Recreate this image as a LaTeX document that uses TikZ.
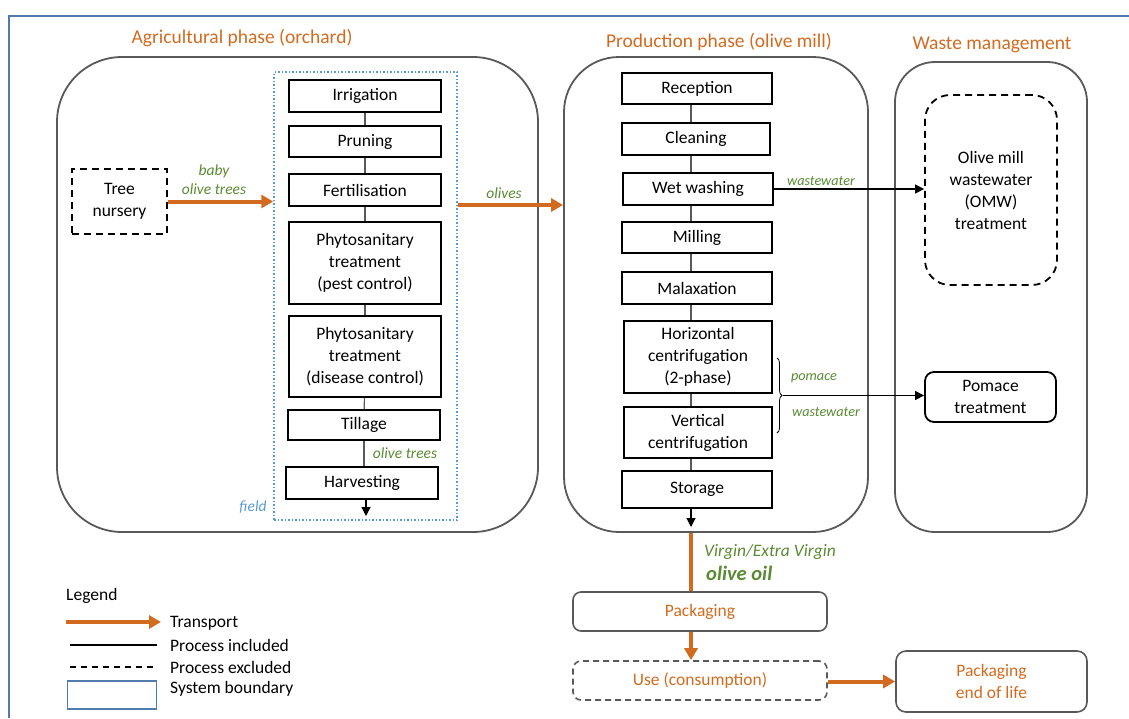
\documentclass[tikz,border=0pt]{standalone}
\usepackage{fontspec}
\setmainfont{Carlito}
\usetikzlibrary{arrows.meta,decorations.pathreplacing}
\definecolor{org}{HTML}{D26B1F}
\definecolor{grn}{HTML}{5A8A33}
\definecolor{sysblue}{HTML}{4F7CAC}
\definecolor{fieldblue}{HTML}{5B9BD5}
\definecolor{phase}{HTML}{595959}
\begin{document}
\begin{tikzpicture}[x=1pt,y=-1pt,
  txt/.style={font=\fontsize{17.5}{22}\selectfont},
  proc/.style={draw=black, line width=1.8pt, txt, align=center, inner sep=0pt},
  excl/.style={draw=black, line width=1.8pt, dash pattern=on 7pt off 5pt, txt, align=center, inner sep=0pt},
  phasebox/.style={draw=phase, line width=1.8pt, inner sep=0pt},
  ttl/.style={text=org, font=\fontsize{19.5}{23}\selectfont},
  glab/.style={text=grn, font=\fontsize{15.5}{19}\selectfont\itshape, align=center, inner sep=0pt},
  slab/.style={text=grn, font=\fontsize{14.2}{16}\selectfont\itshape, inner sep=0pt},
  conn/.style={draw=phase, line width=1.2pt},
  blk/.style={draw=black, line width=1.2pt, -{Triangle[length=9pt,width=9pt]}},
  tr/.style={draw=org, line width=4pt, -{Triangle[length=12pt,width=13pt]}},
  trline/.style={draw=org, line width=4pt},
  otxt/.style={txt, text=org, align=center, inner sep=0pt},
  legtxt/.style={txt, anchor=west, inner sep=0pt}
]
\useasboundingbox (0,0) rectangle (1129,718);
% system boundary
\draw[sysblue, line width=1.6pt] (9,718) -- (9,16) -- (1129,16);

% phase boxes
\node[phasebox, rounded corners=65pt, minimum width=481pt, minimum height=475pt] (agri) at (297.5,294.5) {};
\node[phasebox, rounded corners=55pt, minimum width=304pt, minimum height=475pt] (prod) at (716,294.5) {};
\node[phasebox, rounded corners=40pt, minimum width=192pt, minimum height=470pt] (waste) at (991,297) {};
\node[ttl] (agt) at (242,38) {Agricultural phase (orchard)};
\node[ttl] (prt) at (719,42) {Production phase (olive mill)};
\node[ttl] (wat) at (992,45) {Waste management};

% field boundary
\node[draw=fieldblue, line width=1.5pt, dash pattern=on 1.5pt off 2pt, minimum width=183pt, minimum height=448pt, inner sep=0pt] (field) at (365.5,296) {};
\node[text=fieldblue, font=\fontsize{15.5}{19}\selectfont\itshape, inner sep=0pt] (fieldlab) at (253,507) {field};

% agricultural processes
\node[proc, minimum width=152pt, minimum height=32pt] (irr) at (365,96) {Irrigation};
\node[proc, minimum width=152pt, minimum height=31pt] (pru) at (365,141.5) {Pruning};
\node[proc, minimum width=152pt, minimum height=32pt] (fert) at (365,190) {Fertilisation};
\node[proc, minimum width=152pt, minimum height=82pt] (pest) at (365,263) {Phytosanitary\\treatment\\(pest control)};
\node[proc, minimum width=152pt, minimum height=81pt] (dis) at (365,356.5) {Phytosanitary\\treatment\\(disease control)};
\node[proc, minimum width=152pt, minimum height=30pt] (till) at (364,425) {Tillage};
\node[proc, minimum width=152pt, minimum height=32pt] (harv) at (362,483) {Harvesting};
\draw[conn] (irr) -- (pru);
\draw[conn] (pru) -- (fert);
\draw[conn] (fert) -- (pest);
\draw[conn] (pest) -- (dis);
\draw[conn] (dis) -- (till);
\draw[conn] (till.south) -- (till.south |- harv.north);
\node[glab] (otl) at (405,453) {olive trees};
\coordinate (harvend) at (366,516);
\draw[blk] (harv.south -| harvend) -- (harvend);

% tree nursery
\node[excl, minimum width=95pt, minimum height=65pt] (nur) at (119.5,201.5) {Tree\\nursery};
\draw[tr] (nur.east) -- (nur.east -| field.west);
\node[glab] (baby) at (214,180) {baby\\olive trees};
\draw[tr] (field.east |- 0,205) coordinate (fe) -- (fe -| prod.west);
\node[glab] (olv) at (504,193) {olives};

% production processes
\node[proc, minimum width=150pt, minimum height=31pt] (rec) at (697,88.5) {Reception};
\node[proc, minimum width=148pt, minimum height=32pt] (cle) at (696,139) {Cleaning};
\node[proc, minimum width=150pt, minimum height=32pt] (wet) at (698,189) {Wet washing};
\node[proc, minimum width=150pt, minimum height=31pt] (mil) at (697,237.5) {Milling};
\node[proc, minimum width=150pt, minimum height=32pt] (mal) at (697,288) {Malaxation};
\node[proc, minimum width=148pt, minimum height=72pt] (hor) at (698,357) {Horizontal\\centrifugation\\(2-phase)};
\node[proc, minimum width=148pt, minimum height=51pt] (ver) at (698,432.5) {Vertical\\centrifugation};
\node[proc, minimum width=150pt, minimum height=37pt] (sto) at (697,489.5) {Storage};
\draw[conn] (rec.south -| 691,0) -- (cle.north -| 691,0);
\draw[conn] (cle.south -| 691,0) -- (wet.north -| 691,0);
\draw[conn] (wet.south -| 691,0) -- (mil.north -| 691,0);
\draw[conn] (mil.south -| 691,0) -- (mal.north -| 691,0);
\draw[conn] (mal.south -| 691,0) -- (hor.north -| 691,0);
\draw[conn] (hor.south -| 691,0) -- (ver.north -| 691,0);
\draw[conn] (ver.south -| 691,0) -- (sto.north -| 691,0);
\coordinate (stoend) at (691,527);
\draw[blk] (sto.south -| stoend) -- (stoend);

% waste management
\node[draw=black, line width=1.8pt, dash pattern=on 7pt off 5pt, rounded corners=25pt, minimum width=132pt, minimum height=190pt, txt, align=center] (omw) at (991,190) {Olive mill\\wastewater\\(OMW)\\treatment};
\node[draw=black, line width=1.8pt, rounded corners=9pt, minimum width=131pt, minimum height=50pt, txt, align=center, inner sep=0pt] (pom) at (990.5,397) {Pomace\\treatment};
\draw[blk] (wet.east) -- (wet.east -| omw.west);
\node[slab] (wwl1) at (821,181) {wastewater};
\draw[black, line width=0.8pt, decorate, decoration={brace, amplitude=5pt, aspect=0.5}] (777,358) -- (777,433);
\coordinate (brt) at (783,395.5);
\draw[blk] (brt) -- (brt -| pom.west);
\node[slab] (pomlab) at (814,378) {pomace};
\node[slab] (wwl2) at (826,412) {wastewater};

% bottom chain
\node[draw=phase, line width=1.6pt, rounded corners=8pt, minimum width=254pt, minimum height=39pt, otxt] (pack) at (700,611.5) {Packaging};
\node[draw=phase, line width=1.6pt, dash pattern=on 6pt off 4pt, rounded corners=8pt, minimum width=254pt, minimum height=39pt, otxt] (use) at (700,680.5) {Use (consumption)};
\node[draw=phase, line width=1.6pt, rounded corners=10pt, minimum width=191pt, minimum height=61pt, otxt] (eol) at (991.5,681.5) {Packaging\\end of life};
\draw[trline] (stoend |- prod.south) -- (stoend |- pack.north);
\draw[tr] (pack.south -| stoend) -- (use.north -| stoend);
\draw[tr] (use.east |- eol.west) -- (eol.west);
\node[text=grn, font=\fontsize{17.5}{20}\selectfont\itshape, anchor=west, inner sep=0pt] (vev) at (704,552) {Virgin/Extra Virgin};
\node[text=grn, font=\fontsize{20.5}{23}\selectfont\bfseries\itshape, anchor=west, inner sep=0pt] (oo) at (706,573) {olive oil};

% legend
\node[legtxt] (leg) at (66,596) {Legend};
\coordinate (l1a) at (66,622); \coordinate (l1b) at (161,622);
\draw[tr] (l1a) -- (l1b);
\node[legtxt] (lt1) at (170,623) {Transport};
\coordinate (l2a) at (70,645); \coordinate (l2b) at (157,645);
\draw[black, line width=1.6pt] (l2a) -- (l2b);
\node[legtxt] (lt2) at (170,645) {Process included};
\coordinate (l3a) at (70,667); \coordinate (l3b) at (157,667);
\draw[black, line width=1.6pt, dash pattern=on 6pt off 5pt] (l3a) -- (l3b);
\node[legtxt] (lt3) at (170,667) {Process excluded};
\node[draw=sysblue, line width=1.6pt, minimum width=89pt, minimum height=28pt, inner sep=0pt] (lbox) at (112,695) {};
\node[legtxt] (lt4) at (170,689) {System boundary};
\end{tikzpicture}
\end{document}
